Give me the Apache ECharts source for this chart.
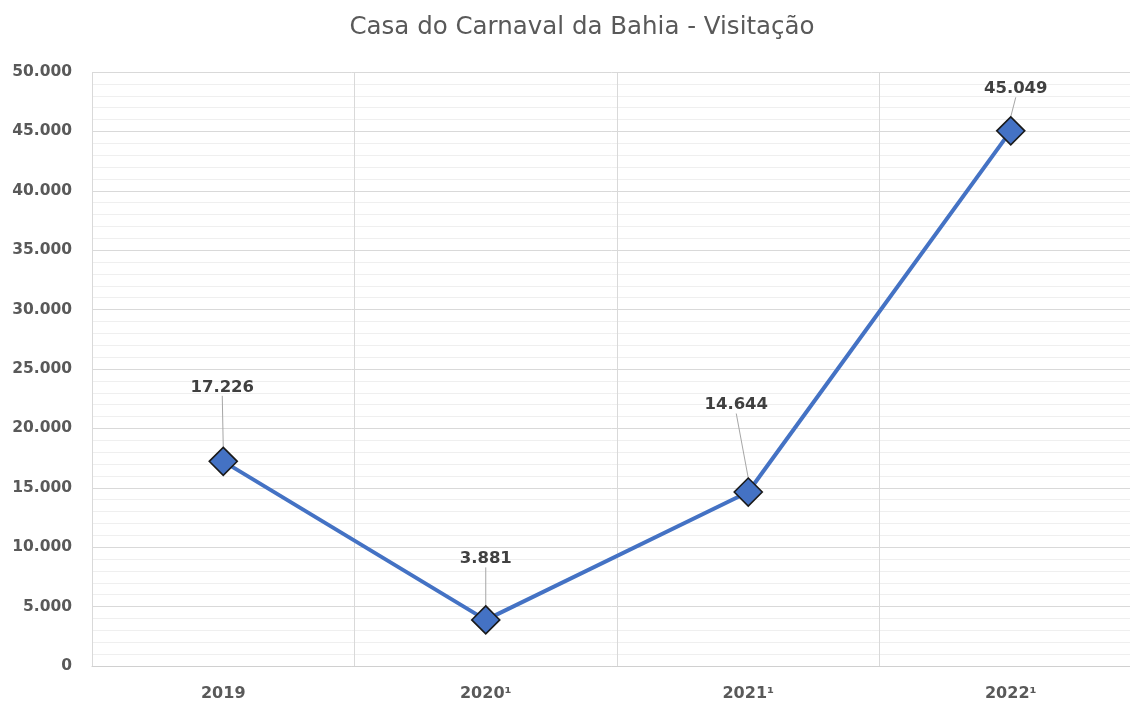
<!DOCTYPE html>
<html>
<head>
<meta charset="utf-8">
<script src="https://cdn.jsdelivr.net/npm/echarts@6/dist/echarts.min.js"></script>
<style>html,body{margin:0;padding:0;background:#fff;}#c{width:1130px;height:704px;}</style>
</head>
<body>
<div id="c"></div>
<script>
const categories = ['2019', '2020¹', '2021¹', '2022¹'];
const visitors = [17226, 3881, 14644, 45049];
const yTicks = [0, 5000, 10000, 15000, 20000, 25000, 30000, 35000, 40000, 45000, 50000];

const labelOffsets = [[-1, -74], [0, -61], [-12, -87], [5, -42]];

function fmt(v) {
  return String(v).replace(/\B(?=(\d{3})+(?!\d))/g, '.');
}

const chart = echarts.init(document.getElementById('c'));
chart.setOption({
  backgroundColor: '#ffffff',
  animation: false,
  title: {
    text: 'Casa do Carnaval da Bahia - Visitação',
    left: 577, top: 10, textAlign: 'center',
    textStyle: { fontFamily: 'DejaVu Sans', fontSize: 24.5, fontWeight: 'normal', color: '#595959' }
  },
  grid: { left: 92, width: 1050, top: 72, bottom: 38, containLabel: false, outerBoundsMode: 'none' },
  xAxis: {
    type: 'category',
    data: categories,
    boundaryGap: true,
    axisLine: { lineStyle: { color: '#d0d0d0', width: 1 } },
    axisTick: { show: false },
    axisLabel: { fontFamily: 'DejaVu Sans', fontSize: 16, fontWeight: 'bold', color: '#595959', margin: 20 },
    splitLine: { show: true, lineStyle: { color: '#d9d9d9', width: 1 } }
  },
  yAxis: {
    type: 'value',
    min: yTicks[0], max: yTicks[yTicks.length - 1], interval: 5000,
    axisLine: { show: false },
    axisTick: { show: false },
    axisLabel: { fontFamily: 'DejaVu Sans', fontSize: 15.5, fontWeight: 'bold', color: '#595959', margin: 20, formatter: v => fmt(v) },
    splitLine: { show: true, lineStyle: { color: '#d9d9d9', width: 1 } },
    minorTick: { show: false, splitNumber: 5 },
    minorSplitLine: { show: true, lineStyle: { color: '#efefef', width: 1 } }
  },
  series: [{
    type: 'line',
    data: visitors,
    symbol: 'diamond',
    symbolSize: 28,
    itemStyle: { color: '#4472c4', borderColor: '#1a1a1a', borderWidth: 1.6 },
    lineStyle: { color: '#4472c4', width: 4 },
    label: {
      show: true, position: 'inside',
      fontFamily: 'DejaVu Sans', fontSize: 16.5, fontWeight: 'bold', color: '#404040',
      formatter: p => fmt(p.value)
    },
    labelLayout: p => ({ dx: labelOffsets[p.dataIndex][0], dy: labelOffsets[p.dataIndex][1] }),
    labelLine: { show: true, lineStyle: { color: '#a6a6a6', width: 1 } },
    z: 3
  }]
});
</script>
</body>
</html>
